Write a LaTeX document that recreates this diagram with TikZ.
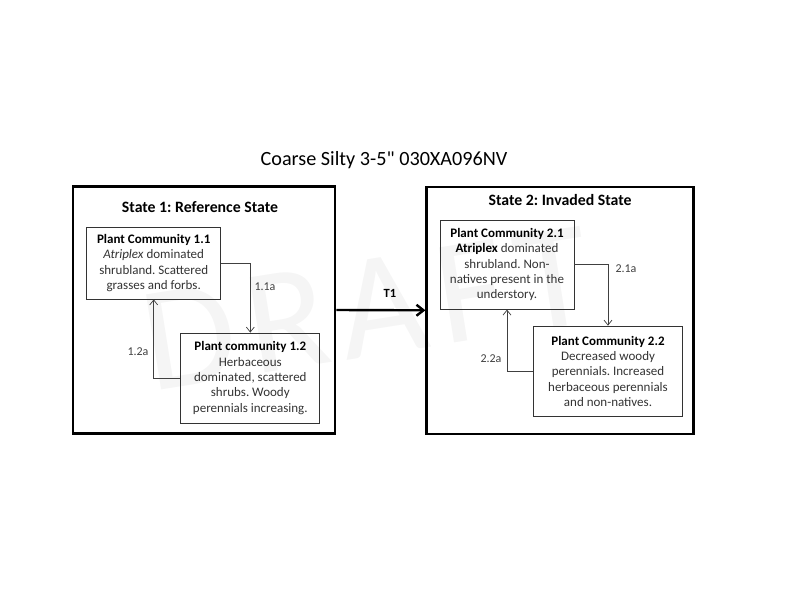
\documentclass[tikz,border=0pt]{standalone}
\usepackage{fontspec}
\setmainfont{Carlito}
\newfontfamily\titlefont{Carlito}
\usetikzlibrary{arrows.meta,positioning}
\tikzset{
    statebox/.style={draw,line width=2.6pt,minimum width=262pt,minimum height=247pt},
    community/.style={draw=black!80,line width=0.8pt,align=center,
        text=black!80,inner sep=2pt,font=\fontsize{13}{15.3}\selectfont},
    pre/.style={-{Straight Barb[length=5pt,width=8pt]},black!75,line width=0.7pt},
    trans/.style={-{Straight Barb[length=7pt,width=11pt]},line width=2.4pt},
    steplabel/.style={text=black!75,font=\fontsize{12}{14}\selectfont}
}

\begin{document}
\frenchspacing
\begin{tikzpicture}[x=1pt,y=-1pt]
    \useasboundingbox (0,0) rectangle (800,600);

    % watermark
    \node[rotate=9,anchor=base,text=black!4,font=\fontsize{150}{150}\selectfont\addfontfeature{LetterSpace=8}] (draft) at (374,356) {DRAFT};

    \node[font=\titlefont\fontsize{20.2}{24}\selectfont] (title) at (384,160) {Coarse Silty 3-5" 030XA096NV};

    % state 1
    \node[statebox] (state1) at (204,310) {};
    \node[font=\bfseries\fontsize{15.8}{18}\selectfont] (state1title) at (200,207) {State 1: Reference State};

    \node[community,minimum width=134pt,minimum height=72pt] (pc11) at (153.7,263)
        {\textbf{\color{black}Plant Community 1.1}\\\textit{Atriplex} dominated\\shrubland. Scattered\\grasses and forbs.};
    \node[community,minimum width=139pt,minimum height=90pt] (pc12) at (250.3,378)
        {\textbf{\color{black}Plant community 1.2}\\Herbaceous\\dominated, scattered\\shrubs. Woody\\perennials increasing.};

    \draw[pre] (pc11.east) -| (pc12.north);
    \draw[pre] (pc12.west) -| (pc11.south);
    \node[steplabel] (l11a) at (265,287) {1.1a};
    \node[steplabel] (l12a) at (138,352) {1.2a};

    % state 2
    \node[statebox,minimum width=266.6pt] (state2) at (560,310.3) {};
    \node[font=\bfseries\fontsize{15.8}{18}\selectfont] (state2title) at (560,200) {State 2: Invaded State};

    \node[community,minimum width=134pt,minimum height=89pt] (pc21) at (507,264.7)
        {\textbf{\color{black}Plant Community 2.1}\\\textbf{\color{black}Atriplex} dominated\\shrubland. Non-\\natives present in the\\understory.};
    \node[community,minimum width=149.4pt,minimum height=90.5pt] (pc22) at (608,371.3)
        {\textbf{\color{black}Plant Community 2.2}\\Decreased woody\\perennials. Increased\\herbaceous perennials\\and non-natives.};

    \draw[pre] (pc21.east) -| (pc22.north);
    \draw[pre] (pc22.west) -| (pc21.south);
    \node[steplabel] (l21a) at (626,269) {2.1a};
    \node[steplabel] (l22a) at (491,359) {2.2a};

    % transition
    \draw[trans] (state1.east) -- (state2.west);
    \node[font=\bfseries\fontsize{12.5}{14}\selectfont] (t1) at (390,293) {T1};
\end{tikzpicture}
\end{document}
